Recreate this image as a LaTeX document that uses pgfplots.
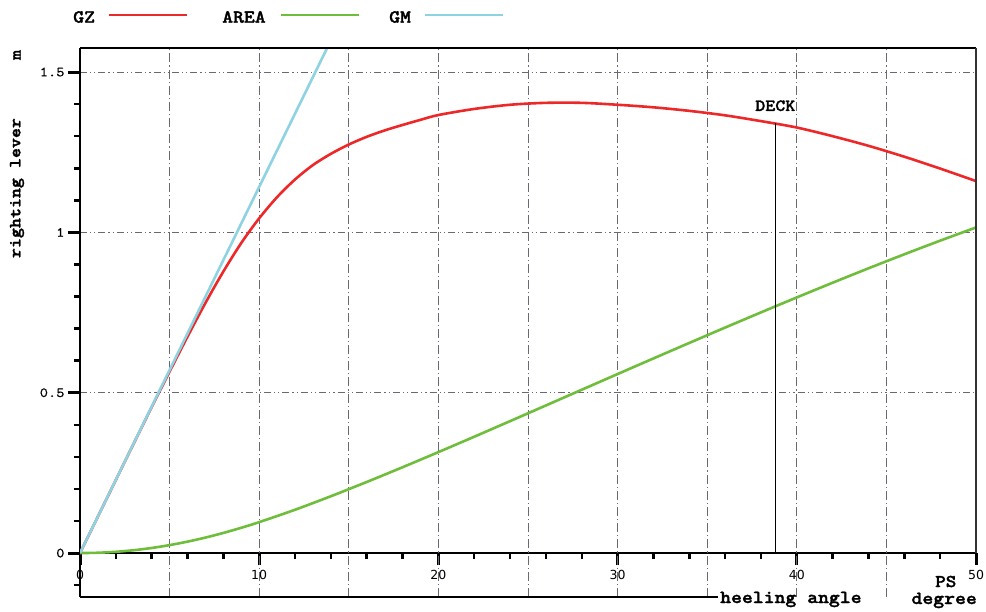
\documentclass[border=0pt]{standalone}
\usepackage{pgfplots}
\pgfplotsset{compat=1.18}
\usepackage{fontspec}
\setmainfont{Liberation Mono}
\newfontfamily\labfont[FakeStretch=1.12, FakeBold=1.6]{lmmonolt10-bold.otf}
\newfontfamily\ytfont[FakeStretch=1.12, FakeBold=0.6]{lmmono10-regular.otf}
\newfontfamily\tickfont{DejaVu Sans}
\definecolor{gzred}{RGB}{236,40,40}
\definecolor{areagreen}{RGB}{110,190,60}
\definecolor{gmblue}{RGB}{142,211,225}
\definecolor{gridgray}{RGB}{105,105,115}
\begin{document}
\begin{tikzpicture}[x=1pt,y=1pt]
\path[use as bounding box] (0,0) rectangle (986,-611);
\begin{axis}[
  at={(80pt,-48pt)}, anchor=north west,
  scale only axis, width=896pt, height=549pt,
  xmin=0, xmax=50, ymin=-0.137, ymax=1.575,
  axis x line=middle, axis y line=left,
  axis line style={-, black, line width=2.6pt},
  hide obscured x ticks=false,
  tick align=outside,
  xtick={0,10,20,30,40,50}, xticklabels={0,10,20,30,40,50},
  minor xtick={2,4,6,8,12,14,16,18,22,24,26,28,32,34,36,38,42,44,46,48},
  ytick={0,0.5,1,1.5}, yticklabels={0,0.5,1,1.5},
  minor ytick={-0.1,0.1,0.2,0.3,0.4,0.6,0.7,0.8,0.9,1.1,1.2,1.3,1.4},
  major tick length=12pt, minor tick length=6pt,
  major tick style={line width=3pt, black},
  minor tick style={line width=2.5pt, black},
  ymajorgrids,
  major grid style={gridgray, line width=0.8pt, dash pattern=on 7pt off 3pt on 1.2pt off 3pt on 1.2pt off 3pt},
  extra x ticks={5,10,15,20,25,30,35,40,45}, extra x tick labels={},
  extra x tick style={grid=major, major tick length=0pt, major grid style={gridgray, line width=0.8pt, dash pattern=on 9pt off 3pt on 1.2pt off 3pt}},
  xticklabel style={font=\tickfont\fontsize{12.5}{14}\selectfont, yshift=-4pt, inner sep=1pt},
  yticklabel style={font=\ytfont\fontsize{14}{16}\selectfont},
  clip mode=individual,
]
% AREA
\addplot[areagreen, line width=2.6pt, smooth] coordinates {
(0,0) (1,0.00099) (2,0.00398) (3,0.00895) (4,0.01591) (5,0.02482) (6,0.03565) (7,0.04834) (8,0.06281) (9,0.07891) (10,0.09646)
(12,0.13511) (14,0.17727) (16,0.22169) (18,0.26767) (20,0.31482) (22,0.36284) (24,0.41143) (26,0.46035) (28,0.50937) (30,0.55828)
(32,0.60694) (34,0.65527) (36,0.70318) (38,0.75052) (40,0.79721) (42,0.84306) (44,0.88793) (46,0.93169) (48,0.97420) (50,1.01538)};
% GZ
\addplot[gzred, line width=2.6pt, smooth] coordinates {
(0,0) (1,0.114) (2,0.228) (3,0.342) (4,0.455) (5,0.566) (6,0.675) (7,0.78) (8,0.878) (9,0.967) (10,1.044)
(11,1.11) (12,1.165) (13,1.21) (14,1.245) (15,1.274) (16,1.298) (17,1.318) (18,1.335) (19,1.351) (20,1.366)
(22,1.385) (24,1.398) (26,1.404) (28,1.404) (30,1.398) (32,1.39) (34,1.379) (36,1.365) (38,1.347) (40,1.327)
(42,1.300) (44,1.270) (46,1.236) (48,1.199) (50,1.160)};
% GM
\addplot[gmblue, line width=2.6pt] coordinates {(0,0) (15,1.713)};
% DECK
\addplot[black, line width=0.9pt] coordinates {(38.8,0) (38.8,1.34)};
\node[font=\labfont\fontsize{17}{19}\selectfont] at (axis cs:38.8,1.395) {DECK};
\draw[black, line width=2.6pt] (rel axis cs:0,1) -- (rel axis cs:1,1);
\draw[black!80, line width=2.6pt] (rel axis cs:1,1) -- (axis cs:50,0);
\draw[black, line width=2.6pt] (rel axis cs:0,0) -- (axis cs:35.6,-0.137);
\end{axis}
% legend
\node[font=\labfont\fontsize{18.5}{20}\selectfont, anchor=west, inner sep=0pt] at (73,-17) {GZ};
\draw[gzred, line width=2.6pt] (109,-15) -- (187,-15);
\node[font=\labfont\fontsize{18.5}{20}\selectfont, anchor=west, inner sep=0pt] at (222,-17) {AREA};
\draw[areagreen, line width=2.6pt] (281,-15) -- (359,-15);
\node[font=\labfont\fontsize{18.5}{20}\selectfont, anchor=west, inner sep=0pt] at (389,-17) {GM};
\draw[gmblue, line width=2.6pt] (425,-15) -- (503,-15);
% axis labels
\node[rotate=90, font=\labfont\fontsize{17}{19}\selectfont] at (17,-55) {m};
\node[rotate=90, font=\labfont\fontsize{17}{19}\selectfont] at (17,-188) {righting lever};
\node[anchor=base west, inner sep=0pt, font=\labfont\fontsize{18.5}{20}\selectfont] at (720,-603) {heeling angle};
\node[anchor=base east, inner sep=0pt, font=\labfont\fontsize{18.5}{20}\selectfont] at (977,-604) {degree};
\node[anchor=base west, inner sep=0pt, font=\labfont\fontsize{18}{20}\selectfont] at (935,-587) {PS};
\end{tikzpicture}
\end{document}
